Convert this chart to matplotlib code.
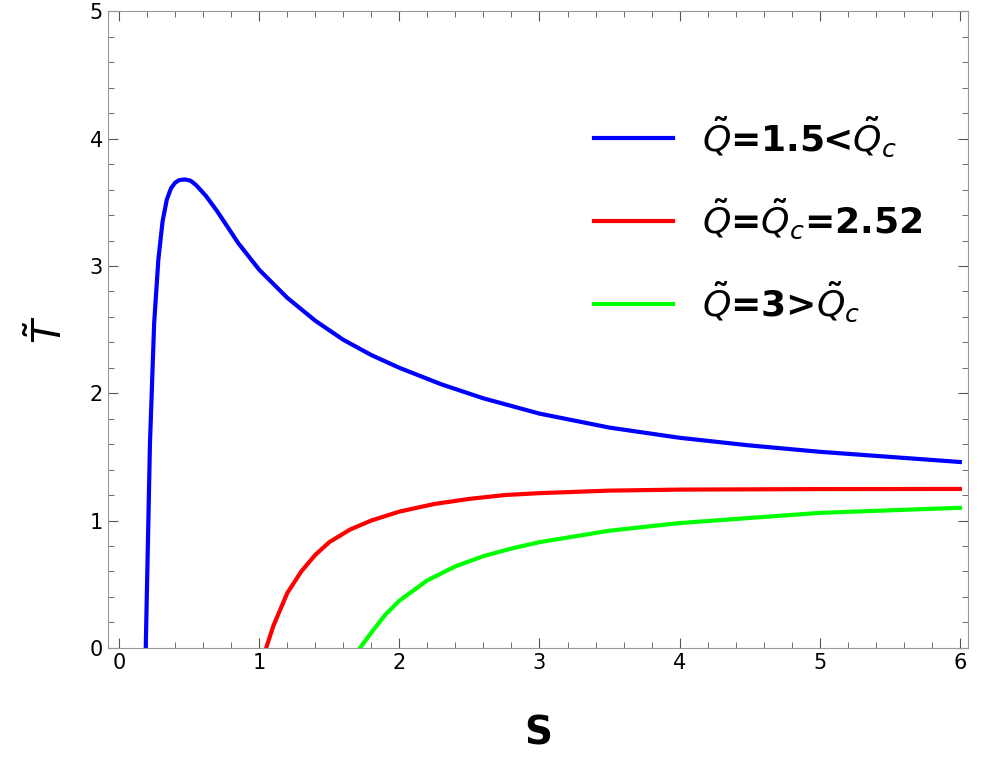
import matplotlib
matplotlib.use("Agg")
import matplotlib.pyplot as plt

# values
s_blue = [0.19, 0.205, 0.22, 0.25, 0.28, 0.31, 0.34, 0.37, 0.40, 0.43, 0.47, 0.51, 0.55, 0.62, 0.70,
          0.85, 1.0, 1.2, 1.4, 1.6, 1.8, 2.0, 2.3, 2.6, 3.0, 3.5, 4.0, 4.5, 5.0, 5.5, 6.0]
t_blue = [0.0, 0.8, 1.6, 2.55, 3.05, 3.35, 3.52, 3.61, 3.655, 3.675, 3.68, 3.67, 3.635, 3.55, 3.43,
          3.18, 2.97, 2.75, 2.57, 2.42, 2.3, 2.2, 2.07, 1.96, 1.84, 1.73, 1.65, 1.59, 1.54, 1.5, 1.46]
s_red = [1.05, 1.1, 1.2, 1.3, 1.4, 1.5, 1.65, 1.8, 2.0, 2.25, 2.5, 2.75, 3.0, 3.5, 4.0, 5.0, 6.0]
t_red = [0.0, 0.17, 0.43, 0.6, 0.73, 0.83, 0.93, 1.0, 1.07, 1.13, 1.17, 1.2, 1.215, 1.235, 1.243, 1.247, 1.248]
s_green = [1.72, 1.8, 1.9, 2.0, 2.2, 2.4, 2.6, 2.8, 3.0, 3.5, 4.0, 4.5, 5.0, 5.5, 6.0]
t_green = [0.0, 0.12, 0.26, 0.37, 0.53, 0.64, 0.72, 0.78, 0.83, 0.92, 0.98, 1.02, 1.06, 1.08, 1.1]

labels = [r"$\mathbf{\tilde{\mathit{Q}}}$=1.5<$\mathbf{\tilde{\mathit{Q}}_\mathit{c}}$",
          r"$\mathbf{\tilde{\mathit{Q}}}$=$\mathbf{\tilde{\mathit{Q}}_\mathit{c}}$=2.52",
          r"$\mathbf{\tilde{\mathit{Q}}}$=3>$\mathbf{\tilde{\mathit{Q}}_\mathit{c}}$"]

fig = plt.figure(figsize=(9.81, 7.63), dpi=100)
ax = fig.add_axes([0.110, 0.151, 0.877, 0.834])

ax.plot(s_blue, t_blue, color="#0000ff", lw=3, label=labels[0])
ax.plot(s_red, t_red, color="#ff0000", lw=3, label=labels[1])
ax.plot(s_green, t_green, color="#00ff00", lw=3, label=labels[2])

ax.set_xlim(-0.08, 6.06)
ax.set_ylim(0, 5)
ax.set_xticks(range(0, 7))
ax.set_yticks(range(0, 6))
ax.set_xticks([i * 0.2 for i in range(31)], minor=True)
ax.set_yticks([i * 0.2 for i in range(26)], minor=True)
ax.tick_params(which="both", direction="in", top=True, right=True, labelsize=15, colors="#555555", labelcolor="black")
ax.tick_params(which="major", length=7)
ax.tick_params(which="minor", length=4)
for sp in ax.spines.values():
    sp.set_color("#999999")

ax.set_xlabel("S", fontsize=28, fontweight="bold", labelpad=30)
ax.set_ylabel(r"$\mathbf{\tilde{\mathit{T}}}$", fontsize=28, labelpad=14)

ax.legend(loc="upper right", bbox_to_anchor=(0.985, 0.89), frameon=False,
          prop={"weight": "bold", "size": 26}, handlelength=2.2, labelspacing=1.05)

fig.savefig("out.png", dpi=100)
